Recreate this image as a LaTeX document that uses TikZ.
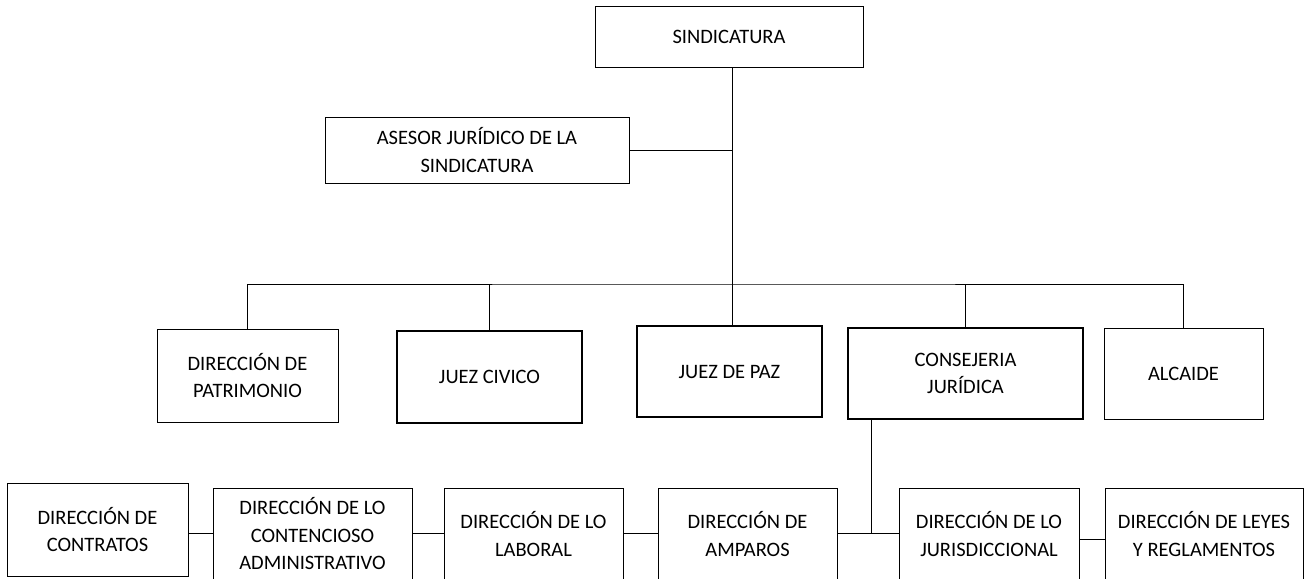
\documentclass[tikz,border=0pt]{standalone}
\usepackage{fontspec}
\setmainfont{Carlito}
\usetikzlibrary{calc}

\begin{document}
\begin{tikzpicture}[x=1pt, y=-1pt,
    box/.style = {draw, line width=1pt, rectangle, align=center, inner sep=0pt,
        font=\fontsize{20.5}{27.5}\selectfont},
    boxthick/.style = {box, line width=1.8pt},
    link/.style = {line width=1pt}]
    \path[fill=white, use as bounding box] (0,0) rectangle (1308,578);
    \clip (0,0) rectangle (1308,578);
    % \draw[red] (0,0) grid[step=100] (1308,578);

    \node[box, minimum width=268, minimum height=60] (sind) at (729,37) {SINDICATURA};
    \node[box, minimum width=304, minimum height=66] (asesor) at (477,150) {ASESOR JURÍDICO DE LA\\SINDICATURA};

% second level
    \node[box, minimum width=181, minimum height=93] (patr) at (247.5,375.5) {DIRECCIÓN DE\\PATRIMONIO};
    \node[boxthick, minimum width=185, minimum height=92] (civ) at (489.5,377) {JUEZ CIVICO};
    \node[boxthick, minimum width=185, minimum height=91] (paz) at (729.5,371.5) {JUEZ DE PAZ};
    \node[boxthick, minimum width=235, minimum height=91] (cons) at (965.5,373.5) {CONSEJERIA\\JURÍDICA};
    \node[box, minimum width=159, minimum height=91] (alc) at (1183.5,373.5) {ALCAIDE};

% third level
    \node[box, minimum width=181, minimum height=93] (contr) at (97.5,529.5) {DIRECCIÓN DE\\CONTRATOS};
    \node[box, minimum width=199, minimum height=92] (cont) at (312.5,534) {DIRECCIÓN DE LO\\CONTENCIOSO\\ADMINISTRATIVO};
    \node[box, minimum width=179, minimum height=92] (lab) at (533.5,534) {DIRECCIÓN DE LO\\LABORAL};
    \node[box, minimum width=179, minimum height=92] (amp) at (747.5,534) {DIRECCIÓN DE\\AMPAROS};
    \node[box, minimum width=180, minimum height=92] (jur) at (989,534) {DIRECCIÓN DE LO\\JURISDICCIONAL};
    \node[box, minimum width=198, minimum height=92] (leyes) at (1204,534) {DIRECCIÓN DE LEYES\\Y REGLAMENTOS};

    \coordinate (bus) at (732,284);
    \coordinate (jn) at (871,533);

    \draw[link] (sind.south -| bus) -- (paz.north -| bus);
    \draw[link] (asesor.east) -- (asesor.east -| bus);
    \draw[link] (patr.north) |- (bus) -| (alc.north);
    \draw[link] (civ.north) -- (civ.north |- bus);
    \draw[link] (cons.north) -- (cons.north |- bus);

    \draw[link] (cons.south -| jn) -- (jn);
    \draw[link] (contr.east |- jn) -- (cont.west |- jn);
    \draw[link] (cont.east |- jn) -- (lab.west |- jn);
    \draw[link] (lab.east |- jn) -- (amp.west |- jn);
    \draw[link] (amp.east |- jn) -- (jur.west |- jn);
    \draw[link] ([yshift=-6pt]jur.east |- jn) -- ([yshift=-6pt]leyes.west |- jn);
\end{tikzpicture}
\end{document}
